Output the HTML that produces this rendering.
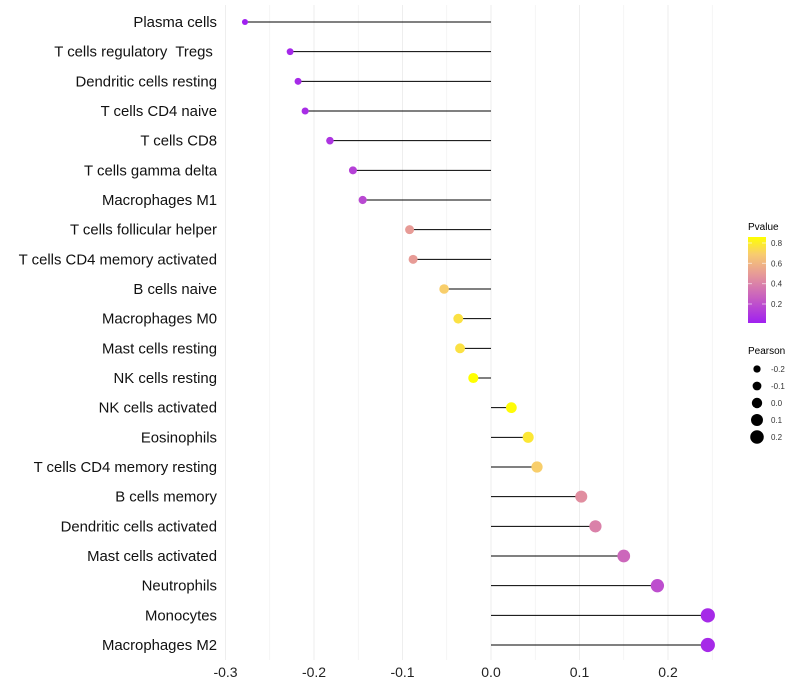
<!DOCTYPE html>
<html><head><meta charset="utf-8"><style>
body{margin:0;background:#fff;font-family:"Liberation Sans",sans-serif}
text{white-space:pre}
</style></head><body>
<svg id="c" width="800" height="700" style="display:block">
<defs><linearGradient id="pg" x1="0" y1="1" x2="0" y2="0">
<stop offset="0" stop-color="#a020f0"/><stop offset="0.3" stop-color="#c860c0"/><stop offset="0.55" stop-color="#e5969a"/><stop offset="0.8" stop-color="#f8cc70"/><stop offset="1" stop-color="#ffff00"/></linearGradient></defs>
<g id="grid"></g>
<g id="marks"></g>
<g id="legend">
<text x="748" y="230" font-size="10">Pvalue</text>
<rect x="748" y="237" width="18" height="86" fill="url(#pg)"/>
<text x="748" y="354" font-size="10">Pearson</text>
</g>
</svg>
<script>
const categories=["Plasma cells","T cells regulatory  Tregs ","Dendritic cells resting","T cells CD4 naive","T cells CD8","T cells gamma delta","Macrophages M1","T cells follicular helper","T cells CD4 memory activated","B cells naive","Macrophages M0","Mast cells resting","NK cells resting","NK cells activated","Eosinophils","T cells CD4 memory resting","B cells memory","Dendritic cells activated","Mast cells activated","Neutrophils","Monocytes","Macrophages M2"];
const pearson=[-0.278,-0.227,-0.218,-0.210,-0.182,-0.156,-0.145,-0.092,-0.088,-0.053,-0.037,-0.035,-0.020,0.023,0.042,0.052,0.102,0.118,0.150,0.188,0.245,0.245];
const pvalue=[0.02,0.05,0.06,0.07,0.1,0.15,0.18,0.5,0.5,0.7,0.76,0.76,0.86,0.85,0.78,0.7,0.45,0.4,0.3,0.2,0.06,0.06];
const xTicks=[-0.3,-0.2,-0.1,0.0,0.1,0.2];
const pTicks=[0.2,0.4,0.6,0.8];
const sizeTicks=[-0.2,-0.1,0.0,0.1,0.2];
const NS="http://www.w3.org/2000/svg";
const x=v=>491+v*885;
const y=i=>22+i*(623/21);
const r=v=>Math.max(1.5,5.2+7.8*v);
const pY=p=>243+(0.8-p)*(61/0.6);
function pcol(p){const t=Math.max(0,Math.min(1,(p-0.02)/0.84));
const st=[[0,[160,32,240]],[0.3,[200,96,192]],[0.55,[229,150,154]],[0.8,[248,204,112]],[1,[255,255,0]]];
for(let k=1;k<st.length;k++){if(t<=st[k][0]){const a=st[k-1],b=st[k],f=(t-a[0])/(b[0]-a[0]);return "rgb("+a[1].map((c,j)=>Math.round(c+(b[1][j]-c)*f)).join(",")+")";}}return "rgb(255,255,0)";}
function mk(t,at,p){const e=document.createElementNS(NS,t);for(const k in at)e.setAttribute(k,at[k]);p.appendChild(e);return e;}
const G=document.getElementById('grid'),M=document.getElementById('marks'),L=document.getElementById('legend');
for(let v=-0.3;v<=0.251;v+=0.05){const l=mk('line',{x1:x(v),x2:x(v),y1:5,y2:660,stroke:'#eeeeee','stroke-width':Math.abs(Math.round(v*20))%2===0?1:0.6},G);

}
xTicks.forEach(v=>{const t=mk('text',{x:x(v),y:677,'font-size':14,'text-anchor':'middle',fill:'#222'},G);t.textContent=v.toFixed(1);

});
categories.forEach((c,i)=>{const t=mk('text',{x:217,y:y(i)+5,'font-size':14.9,'text-anchor':'end',fill:'#111'},M);t.textContent=c;


const ln=mk('line',{x1:x(0),x2:x(pearson[i]),y1:y(i),y2:y(i),stroke:'#000','stroke-width':1},M);


const d=mk('circle',{cx:x(pearson[i]),cy:y(i),r:r(pearson[i]),fill:pcol(pvalue[i])},M);

});
pTicks.forEach(p=>{mk('line',{x1:748,x2:752,y1:pY(p),y2:pY(p),stroke:'#fff','stroke-opacity':0.6},L);mk('line',{x1:762,x2:766,y1:pY(p),y2:pY(p),stroke:'#fff','stroke-opacity':0.6},L);
const t=mk('text',{x:771,y:pY(p)+3,'font-size':8,fill:'#333'},L);t.textContent=p.toFixed(1);

});
sizeTicks.forEach((s,k)=>{const cy=369+k*17;const d=mk('circle',{cx:757,cy:cy,r:r(s),fill:'#000'},L);


const t=mk('text',{x:771,y:cy+3,'font-size':8,fill:'#333'},L);t.textContent=s.toFixed(1);

});
</script>
</body></html>
